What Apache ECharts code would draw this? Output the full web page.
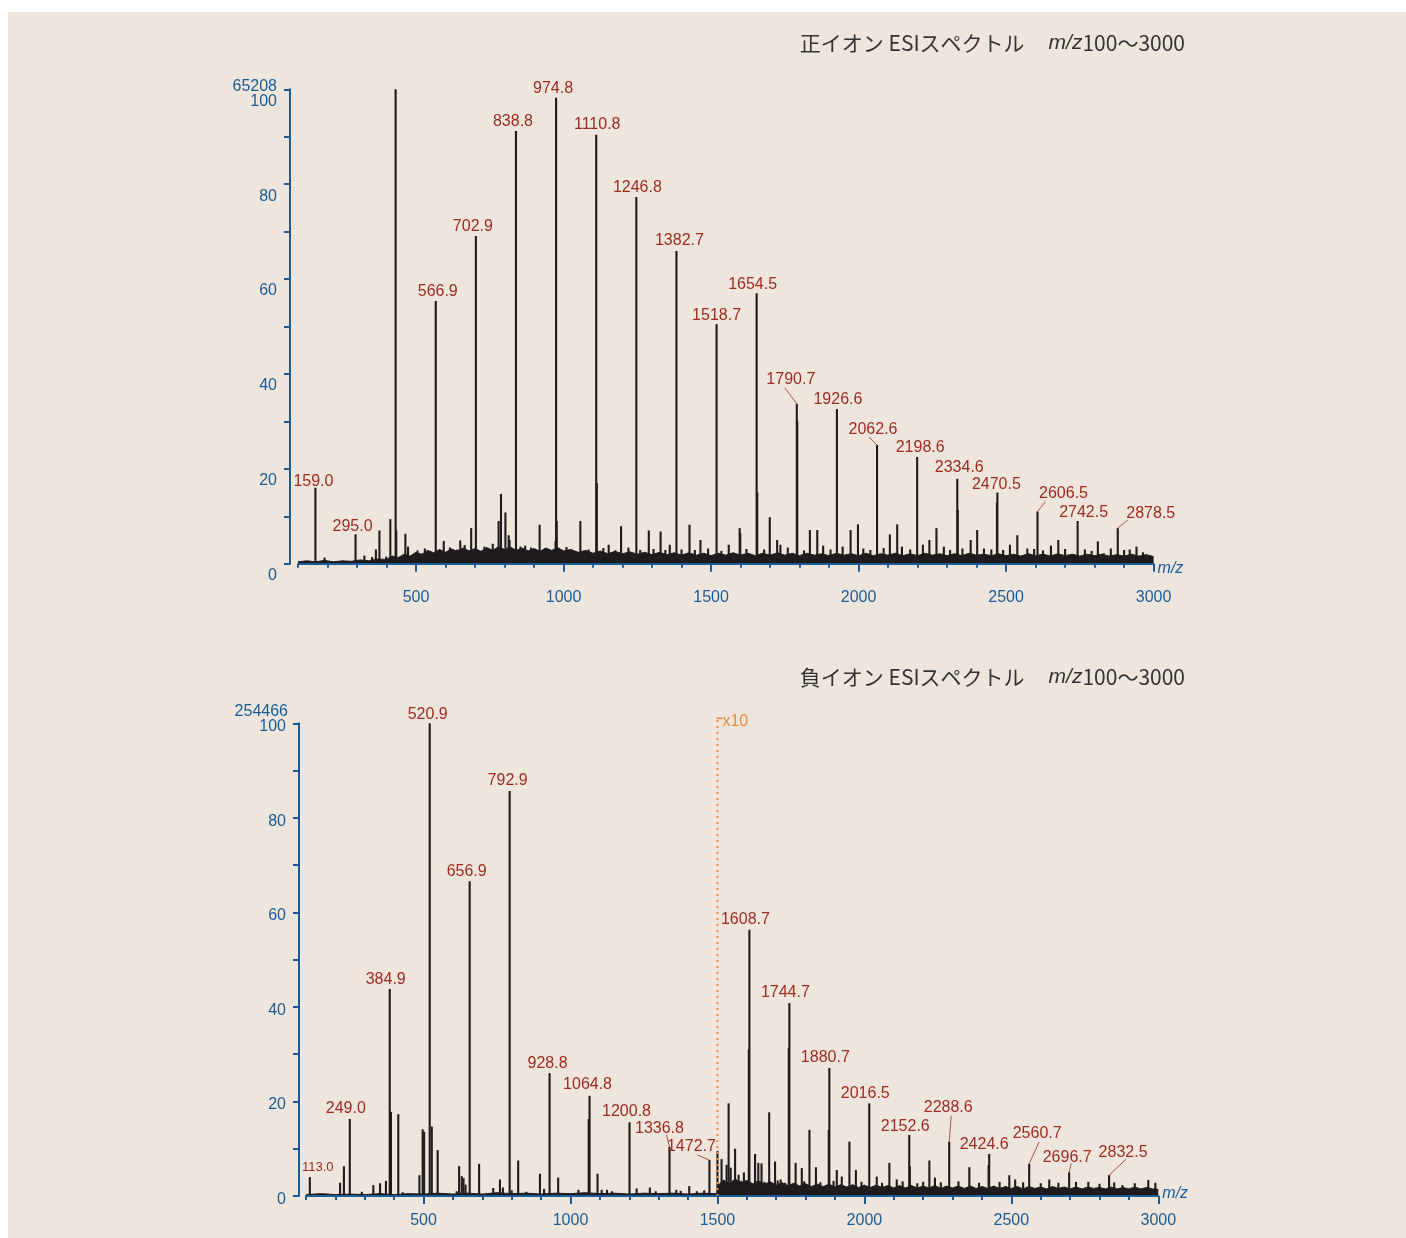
<!DOCTYPE html>
<html>
<head>
<meta charset="utf-8">
<title>ESI spectra</title>
<script src="https://cdn.jsdelivr.net/npm/echarts@6/dist/echarts.min.js"></script>
<style>
  html, body { margin: 0; padding: 0; background: #ffffff; }
  #chart {
    width: 1406px; height: 1238px;
    background: linear-gradient(#eee6dd, #eee6dd) 8px 12px / 1398px 1226px no-repeat, #ffffff;
  }
</style>
</head>
<body>
<div id="chart"></div>
<script>
// ---- Positive-ion spectrum (relative intensity, base peak = 65208 counts) ----
const posBaseCount = '65208';
const posLabeledPeaks = [
  [159.0, 16.0], [295.0, 6.2], [566.9, 55.4], [702.9, 69.1], [838.8, 91.2],
  [974.8, 98.2], [1110.8, 90.4], [1246.8, 77.3], [1382.7, 65.9], [1518.7, 50.5],
  [1654.5, 57.0], [1790.7, 33.7], [1926.6, 32.6], [2062.6, 25.0], [2198.6, 22.5],
  [2334.6, 17.9], [2470.5, 15.0], [2606.5, 11.0], [2742.5, 9.0], [2878.5, 7.5]
];
const posOtherPeaks = [
  [190, 1.3], [325, 1.7], [351, 1.4], [364, 3.0], [376, 7.0], [399, 1.5], [413, 9.4],
  [430.9, 100], [433, 7.0], [464, 6.3], [473, 3.6], [505, 2.8], [530, 3.2], [594, 4.8],
  [615, 3.4], [640, 3.0], [650, 4.9], [665, 3.9], [687, 7.5], [732, 3.6], [745, 3.3],
  [760, 4.2], [780, 9.0], [788, 14.7], [803, 10.8], [814, 6.0], [817, 5.0], [854, 3.6],
  [870, 3.8], [890, 3.4], [919, 8.2], [940, 3.1], [973, 4.8], [977, 9.0], [1010, 3.5],
  [1057, 9.0], [1065, 2.7], [1085, 3.0], [1112.8, 17.0], [1135, 3.3], [1153, 4.0],
  [1175, 2.8], [1195, 7.9], [1220, 3.4], [1260, 2.9], [1289, 7.0], [1305, 3.1],
  [1329, 6.8], [1345, 2.9], [1360, 4.0], [1400, 3.0], [1427, 8.2], [1445, 2.9],
  [1464, 5.0], [1490, 3.2], [1535, 2.7], [1560, 4.0], [1597, 7.5], [1599, 6.5],
  [1620, 3.1], [1656.5, 15.0], [1680, 3.0], [1699, 9.8], [1724, 5.0], [1735, 4.0],
  [1760, 3.4], [1792.2, 30.0], [1815, 2.8], [1835, 7.1], [1860, 7.1], [1880, 3.8],
  [1905, 3.0], [1946, 3.6], [1973, 7.1], [1998, 8.3], [2016, 3.2], [2040, 2.9],
  [2085, 3.3], [2106, 6.2], [2131, 8.3], [2147, 3.6], [2175, 3.0], [2218, 4.0],
  [2240, 5.0], [2264, 7.5], [2289, 3.6], [2310, 2.9], [2336.1, 11.3], [2352, 3.2],
  [2380, 5.0], [2402, 7.1], [2425, 3.2], [2450, 3.0], [2469, 13.0], [2490, 2.9],
  [2513, 4.0], [2538, 6.0], [2572, 3.2], [2595, 3.1], [2625, 2.8], [2652, 3.8],
  [2677, 5.0], [2700, 3.1], [2767, 3.0], [2790, 2.7], [2811, 4.7], [2831, 2.2],
  [2855, 3.2], [2900, 2.9], [2919, 3.0], [2942, 3.6], [2964, 2.4], [2987, 1.5]
];
const posNoise = [
  [100, 0.4], [130, 0.6], [160, 0.4], [190, 0.7], [220, 0.4], [250, 0.6], [280, 0.5],
  [310, 0.8], [340, 0.6], [370, 1.0], [400, 0.9], [420, 1.6], [440, 1.3], [460, 2.0],
  [480, 1.6], [500, 2.4], [520, 2.0], [540, 2.8], [560, 2.3], [580, 3.0], [600, 2.4],
  [620, 3.1], [640, 2.6], [660, 3.3], [680, 2.7], [700, 3.2], [720, 2.6], [740, 3.4],
  [760, 2.8], [780, 3.6], [800, 3.0], [820, 3.5], [840, 2.8], [860, 3.3], [880, 2.7],
  [900, 3.2], [920, 2.6], [940, 3.3], [960, 2.8], [980, 3.4], [1000, 2.7], [1025, 3.0],
  [1050, 2.4], [1075, 2.8], [1100, 2.2], [1125, 2.7], [1150, 2.1], [1175, 2.6],
  [1200, 2.1], [1225, 2.5], [1250, 2.0], [1275, 2.4], [1300, 1.9], [1325, 2.4],
  [1350, 1.9], [1375, 2.3], [1400, 1.8], [1425, 2.3], [1450, 1.8], [1475, 2.2],
  [1500, 1.7], [1525, 2.2], [1550, 1.8], [1575, 2.3], [1600, 1.8], [1625, 2.2],
  [1650, 1.7], [1675, 2.2], [1700, 1.8], [1725, 2.3], [1750, 1.8], [1775, 2.2],
  [1800, 1.7], [1825, 2.2], [1850, 1.8], [1875, 2.1], [1900, 1.7], [1925, 2.2],
  [1950, 1.8], [1975, 2.1], [2000, 1.7], [2025, 2.2], [2050, 1.7], [2075, 2.1],
  [2100, 1.8], [2125, 2.2], [2150, 1.7], [2175, 2.1], [2200, 1.7], [2225, 2.2],
  [2250, 1.8], [2275, 2.1], [2300, 1.7], [2325, 2.1], [2350, 1.7], [2375, 2.2],
  [2400, 1.8], [2425, 2.0], [2450, 1.7], [2475, 2.1], [2500, 1.7], [2525, 2.0],
  [2550, 1.6], [2575, 2.1], [2600, 1.7], [2625, 2.0], [2650, 1.6], [2675, 2.1],
  [2700, 1.7], [2725, 2.0], [2750, 1.6], [2775, 2.0], [2800, 1.7], [2825, 2.0],
  [2850, 1.6], [2875, 1.9], [2900, 1.6], [2925, 2.0], [2950, 1.6], [2975, 1.9], [3000, 1.5]
];

// ---- Negative-ion spectrum (base peak = 254466 counts; m/z > 1500 shown x10) ----
const negBaseCount = '254466';
const negLabeledPeaks = [
  [113.0, 4.0], [249.0, 16.3], [384.9, 43.8], [520.9, 100], [656.9, 66.6],
  [792.9, 85.7], [928.8, 26.0], [1064.8, 21.2], [1200.8, 15.6], [1336.8, 10.4],
  [1472.7, 7.6], [1608.7, 56.3], [1744.7, 40.8], [1880.7, 27.1], [2016.5, 19.6],
  [2152.6, 12.9], [2288.6, 11.5], [2424.6, 8.9], [2560.7, 6.8], [2696.7, 5.0], [2832.5, 4.4]
];
const negOtherPeaks = [
  [216, 2.8], [229, 6.3], [290, 0.9], [329, 2.3], [352, 2.7], [372, 3.2], [389, 17.8],
  [414, 17.3], [429, 0.8], [486, 4.4], [497, 14.1], [502, 13.6], [528, 14.7], [548, 9.7],
  [613, 1.0], [621, 6.3], [630, 4.2], [636, 3.8], [643, 2.4], [689, 6.8], [737, 1.7],
  [760, 3.5], [770, 1.8], [800, 1.2], [822, 7.5], [850, 0.9], [896, 4.7], [910, 1.5],
  [958, 3.9], [1027, 1.3], [1062, 16.3], [1092, 4.7], [1106, 1.3], [1124, 1.3],
  [1141, 1.0], [1225, 1.6], [1270, 1.8], [1290, 1.0], [1360, 1.3], [1375, 1.1],
  [1404, 2.1], [1430, 1.0], [1455, 1.2],
  [1500, 9.5], [1514, 7.8], [1531, 6.6], [1538, 19.6], [1545, 6.0], [1560, 10.0],
  [1572, 4.5], [1580, 3.2], [1590, 5.0], [1606.7, 31.0], [1628, 8.9], [1639, 7.0],
  [1650, 6.9], [1660, 3.0], [1676, 17.7], [1696, 7.3], [1705, 3.3], [1715, 3.5],
  [1730, 2.8], [1742.7, 31.3], [1766, 7.0], [1787, 5.9], [1795, 3.1], [1813, 14.0],
  [1835, 6.1], [1850, 2.9], [1878.7, 14.0], [1895, 3.2], [1906, 5.5], [1923, 4.1],
  [1949, 11.5], [1971, 5.5], [1990, 3.0], [2042, 4.1], [2060, 2.8], [2085, 7.0],
  [2110, 3.5], [2130, 3.1], [2154.6, 6.3], [2180, 2.7], [2200, 3.0], [2221, 7.5],
  [2240, 3.9], [2260, 2.9], [2320, 3.1], [2357, 6.1], [2390, 2.8], [2422.6, 6.5],
  [2460, 3.0], [2493, 4.4], [2513, 3.5], [2540, 2.9], [2600, 2.7], [2629, 3.5],
  [2660, 2.8], [2720, 3.0], [2762, 3.0], [2800, 2.6], [2850, 2.9], [2878, 2.3],
  [2920, 2.7], [2966, 3.4], [2990, 2.8]
];
const negNoise = [
  [100, 0.3], [150, 0.5], [200, 0.3], [250, 0.4], [300, 0.3], [350, 0.5], [400, 0.3],
  [450, 0.5], [500, 0.4], [550, 0.6], [600, 0.4], [650, 0.6], [700, 0.4], [750, 0.7],
  [800, 0.5], [850, 0.6], [900, 0.4], [950, 0.6], [1000, 0.5], [1050, 0.7], [1100, 0.5],
  [1150, 0.6], [1200, 0.4], [1250, 0.6], [1300, 0.5], [1350, 0.6], [1400, 0.4],
  [1450, 0.6], [1498, 0.5], [1502, 2.2], [1520, 3.4], [1540, 2.6], [1560, 3.6],
  [1580, 2.8], [1600, 3.3], [1620, 2.6], [1640, 3.2], [1660, 2.5], [1680, 3.0],
  [1700, 2.3], [1720, 2.8], [1740, 2.2], [1760, 2.7], [1780, 2.1], [1800, 2.6],
  [1820, 2.0], [1840, 2.5], [1860, 2.0], [1880, 2.5], [1900, 1.9], [1920, 2.4],
  [1940, 1.9], [1960, 2.4], [1980, 1.8], [2000, 2.3], [2020, 1.8], [2040, 2.3],
  [2060, 1.8], [2080, 2.2], [2100, 1.7], [2120, 2.2], [2140, 1.7], [2160, 2.2],
  [2180, 1.7], [2200, 2.1], [2220, 1.7], [2240, 2.2], [2260, 1.6], [2280, 2.1],
  [2300, 1.7], [2320, 2.1], [2340, 1.6], [2360, 2.1], [2380, 1.6], [2400, 2.0],
  [2420, 1.6], [2440, 2.1], [2460, 1.6], [2480, 2.0], [2500, 1.6], [2520, 2.0],
  [2540, 1.5], [2560, 2.0], [2580, 1.6], [2600, 1.9], [2620, 1.5], [2640, 2.0],
  [2660, 1.6], [2680, 1.9], [2700, 1.5], [2720, 1.9], [2740, 1.5], [2760, 1.9],
  [2780, 1.6], [2800, 1.8], [2820, 1.5], [2840, 1.9], [2860, 1.5], [2880, 1.8],
  [2900, 1.5], [2920, 1.9], [2940, 1.5], [2960, 1.8], [2980, 1.5], [3000, 1.4]
];
const magnifyFrom = 1500;
const magnifyText = 'x10';

// ---- Axis ticks ----
const mzRange = [100, 3000];
const mzMajorTicks = [500, 1000, 1500, 2000, 2500, 3000];
const intensityRange = [0, 100];

// ---- Peak label placement (pixel offsets of the label centre from the peak top,
//      optional leader-line start relative to the label centre) ----
const posLabelLayout = {
  def: { dx: 0, dy: -9 },
  '159.0': { dx: -2, dy: -6 }, '295.0': { dx: -3, dy: -8 }, '566.9': { dx: 2 },
  '702.9': { dx: -3 }, '838.8': { dx: -3 }, '974.8': { dx: -3 }, '1110.8': { dx: 1, dy: -10 },
  '1246.8': { dx: 1 }, '1382.7': { dx: 3, dy: -10 }, '1654.5': { dx: -4 },
  '1790.7': { dx: -6, dy: -24, lead: [-6, 8] }, '1926.6': { dx: 1 },
  '2062.6': { dx: -4, dy: -16, lead: [-4, 8] }, '2198.6': { dx: 3 },
  '2334.6': { dx: 2, dy: -11 }, '2470.5': { dx: -1, dy: -8 },
  '2606.5': { dx: 26, dy: -18, lead: [-18, 8] }, '2742.5': { dx: 6, dy: -8 },
  '2878.5': { dx: 33, dy: -15, lead: [-23, 7] }
};
const negLabelLayout = {
  def: { dx: -3, dy: -10 },
  '113.0': { dx: 8, dy: -10, size: 13 }, '249.0': { dx: -4 }, '384.9': { dx: -4, dy: -9 },
  '520.9': { dx: -2, dy: -9 }, '792.9': { dx: -2 }, '928.8': { dx: -2 },
  '1064.8': { dx: -2, dy: -11 }, '1200.8': { dx: -3, dy: -11 },
  '1336.8': { dx: -10, dy: -18, lead: [7, 6] }, '1472.7': { dx: -18, dy: -13, lead: [6, 8] },
  '1608.7': { dx: -4 }, '1744.7': { dx: -4, dy: -11 }, '1880.7': { dx: -4 },
  '2016.5': { dx: -4 }, '2152.6': { dx: -4, dy: -8 },
  '2288.6': { dx: -1, dy: -34, lead: [3, 8] }, '2424.6': { dx: -5, dy: -9 },
  '2560.7': { dx: 8, dy: -30, lead: [2, 8] }, '2696.7': { dx: -2, dy: -15, lead: [4, 6] },
  '2832.5': { dx: 14, dy: -23, lead: [3, 7] }
};

const BLUE = '#1b5c97';
const RED = '#9e2a20';
const INK = '#1f1b1c';
const ORANGE = '#f08a3c';
const NUM_FONT = '"Liberation Sans", Arial, Helvetica, sans-serif';
const JP_FONT = '"Noto Sans CJK JP", "Liberation Sans", sans-serif';

const chart = echarts.init(document.getElementById('chart'), null, { renderer: 'canvas' });

// Vertical stick from the baseline to the peak intensity.
function renderStick(params, api) {
  const x = api.value(0), y = api.value(1);
  const p0 = api.coord([x, 0]);
  const p1 = api.coord([x, y]);
  return {
    type: 'line',
    shape: { x1: p0[0], y1: p0[1], x2: p1[0], y2: p1[1] },
    style: { stroke: INK, lineWidth: 2.1 }
  };
}

// m/z label above a peak, with an optional thin leader line.
function makeLabelRenderer(layout) {
  return function (params, api) {
    const x = api.value(0), y = api.value(1);
    const text = x.toFixed(1);
    const cfg = Object.assign({}, layout.def, layout[text] || {});
    const top = api.coord([x, y]);
    const tx = top[0] + cfg.dx, ty = top[1] + cfg.dy;
    const children = [{
      type: 'text', x: tx, y: ty,
      style: {
        text: text, fill: RED,
        font: (cfg.size || 16) + 'px ' + NUM_FONT,
        align: 'center', verticalAlign: 'middle'
      }
    }];
    if (cfg.lead) {
      children.push({
        type: 'line',
        shape: { x1: tx + cfg.lead[0], y1: ty + cfg.lead[1], x2: top[0], y2: top[1] },
        style: { stroke: RED, lineWidth: 0.8 }
      });
    }
    return { type: 'group', children: children };
  };
}

// Dotted marker where the x10 magnification starts, with its corner and caption.
function renderMagnifyMarker(params, api) {
  const x = api.value(0);
  const base = api.coord([x, 0]);
  const top = api.coord([x, intensityRange[1]]);
  const yTop = top[1] - 5;
  return {
    type: 'group',
    children: [
      {
        type: 'line',
        shape: { x1: base[0], y1: base[1], x2: top[0], y2: yTop },
        style: { stroke: ORANGE, lineWidth: 2, lineDash: [2, 4] }
      },
      {
        type: 'line',
        shape: { x1: top[0] - 1, y1: yTop, x2: top[0] + 5, y2: yTop },
        style: { stroke: ORANGE, lineWidth: 1.6 }
      },
      {
        type: 'text', x: top[0] + 5, y: yTop + 3.5,
        style: {
          text: magnifyText, fill: ORANGE, font: '16px ' + NUM_FONT,
          align: 'left', verticalAlign: 'middle'
        }
      }
    ]
  };
}

function mzAxes(gridIndex, labelMargin, nameVAlign, nameLineHeight) {
  return [
    {
      gridIndex: gridIndex, type: 'value', min: mzRange[0], max: mzRange[1],
      position: 'bottom', z: 5,
      axisLine: { show: true, onZero: false, lineStyle: { color: BLUE, width: 2 } },
      axisTick: { show: true, customValues: mzMajorTicks, length: 8, lineStyle: { color: BLUE, width: 2 } },
      axisLabel: {
        customValues: mzMajorTicks, formatter: v => String(v),
        color: BLUE, fontSize: 16, fontFamily: NUM_FONT, margin: labelMargin
      },
      splitLine: { show: false },
      name: 'm/z', nameLocation: 'end', nameGap: 4, nameMoveOverlap: false,
      nameTextStyle: {
        color: BLUE, fontStyle: 'italic', fontSize: 16, fontFamily: NUM_FONT,
        verticalAlign: nameVAlign, lineHeight: nameLineHeight
      }
    },
    {
      gridIndex: gridIndex, type: 'value', min: mzRange[0], max: mzRange[1], interval: 100,
      position: 'bottom', z: 5,
      axisLine: { show: false, onZero: false },
      axisTick: { show: true, length: 4, lineStyle: { color: BLUE, width: 2 } },
      axisLabel: { show: false },
      splitLine: { show: false }
    }
  ];
}

function intensityAxis(gridIndex, offset, labelLineHeight, baseCount, nameGap, namePadRight) {
  return {
    gridIndex: gridIndex, type: 'value', min: intensityRange[0], max: intensityRange[1],
    interval: 10, position: 'left', offset: offset,
    axisLine: { show: true, onZero: false, lineStyle: { color: BLUE, width: 2 } },
    axisTick: { show: true, length: 6, lineStyle: { color: BLUE, width: 2 } },
    axisLabel: {
      formatter: v => (v % 20 === 0 ? String(v) : ''),
      color: BLUE, fontSize: 16, fontFamily: NUM_FONT, margin: 13,
      verticalAlign: 'top', lineHeight: labelLineHeight
    },
    splitLine: { show: false },
    name: baseCount, nameLocation: 'end', nameGap: nameGap, nameMoveOverlap: false,
    nameTextStyle: {
      color: BLUE, fontSize: 16, fontFamily: NUM_FONT,
      align: 'right', verticalAlign: 'middle', padding: [0, namePadRight, 0, 0]
    }
  };
}

function titleText(y, prefix) {
  return {
    type: 'text', x: 1185, y: y, z: 10,
    style: {
      text: '{j|' + prefix + ' ESIスペクトル}{g|}{i|m/z}{n|100〜3000}',
      align: 'right', verticalAlign: 'middle',
      rich: {
        j: { fontFamily: JP_FONT, fontSize: 21, fill: '#333333', color: '#333333' },
        g: { width: 24 },
        i: { fontFamily: NUM_FONT, fontStyle: 'italic', fontSize: 21, fill: '#333333', color: '#333333' },
        n: { fontFamily: JP_FONT, fontSize: 21, fill: '#333333', color: '#333333' }
      }
    }
  };
}

const option = {
  animation: false,
  backgroundColor: 'transparent',
  grid: [
    { left: 298, top: 89.3, width: 855.6, height: 474.4, containLabel: false, outerBoundsMode: 'none' },
    { left: 306, top: 723.3, width: 852.3, height: 472.7, containLabel: false, outerBoundsMode: 'none' }
  ],
  xAxis: [].concat(mzAxes(0, 26, 'top', 9), mzAxes(1, 17, 'bottom', 4)),
  yAxis: [
    intensityAxis(0, 8, 24, posBaseCount, 2.6, 13),
    intensityAxis(1, 7, 7, negBaseCount, 11.6, 11)
  ],
  graphic: [
    titleText(43, '正イオン'),
    titleText(677, '負イオン')
  ],
  series: [
    // positive-ion spectrum
    {
      type: 'line', xAxisIndex: 0, yAxisIndex: 0, data: posNoise, symbol: 'none',
      silent: true, z: 2, lineStyle: { color: INK, width: 1 }, areaStyle: { color: INK, opacity: 1 }
    },
    {
      type: 'custom', xAxisIndex: 0, yAxisIndex: 0, data: posOtherPeaks.concat(posLabeledPeaks),
      encode: { x: 0, y: 1 }, renderItem: renderStick, silent: true, z: 3
    },
    {
      type: 'custom', xAxisIndex: 0, yAxisIndex: 0, data: posLabeledPeaks,
      encode: { x: 0, y: 1 }, renderItem: makeLabelRenderer(posLabelLayout), silent: true, z: 4
    },
    // negative-ion spectrum
    {
      type: 'line', xAxisIndex: 2, yAxisIndex: 1, data: negNoise, symbol: 'none',
      silent: true, z: 2, lineStyle: { color: INK, width: 1 }, areaStyle: { color: INK, opacity: 1 }
    },
    {
      type: 'custom', xAxisIndex: 2, yAxisIndex: 1, data: negOtherPeaks.concat(negLabeledPeaks),
      encode: { x: 0, y: 1 }, renderItem: renderStick, silent: true, z: 3
    },
    {
      type: 'custom', xAxisIndex: 2, yAxisIndex: 1, data: negLabeledPeaks,
      encode: { x: 0, y: 1 }, renderItem: makeLabelRenderer(negLabelLayout), silent: true, z: 4
    },
    {
      type: 'custom', xAxisIndex: 2, yAxisIndex: 1, data: [[magnifyFrom]],
      encode: { x: 0 }, renderItem: renderMagnifyMarker, silent: true, z: 4
    }
  ]
};

chart.setOption(option);
</script>
</body>
</html>
